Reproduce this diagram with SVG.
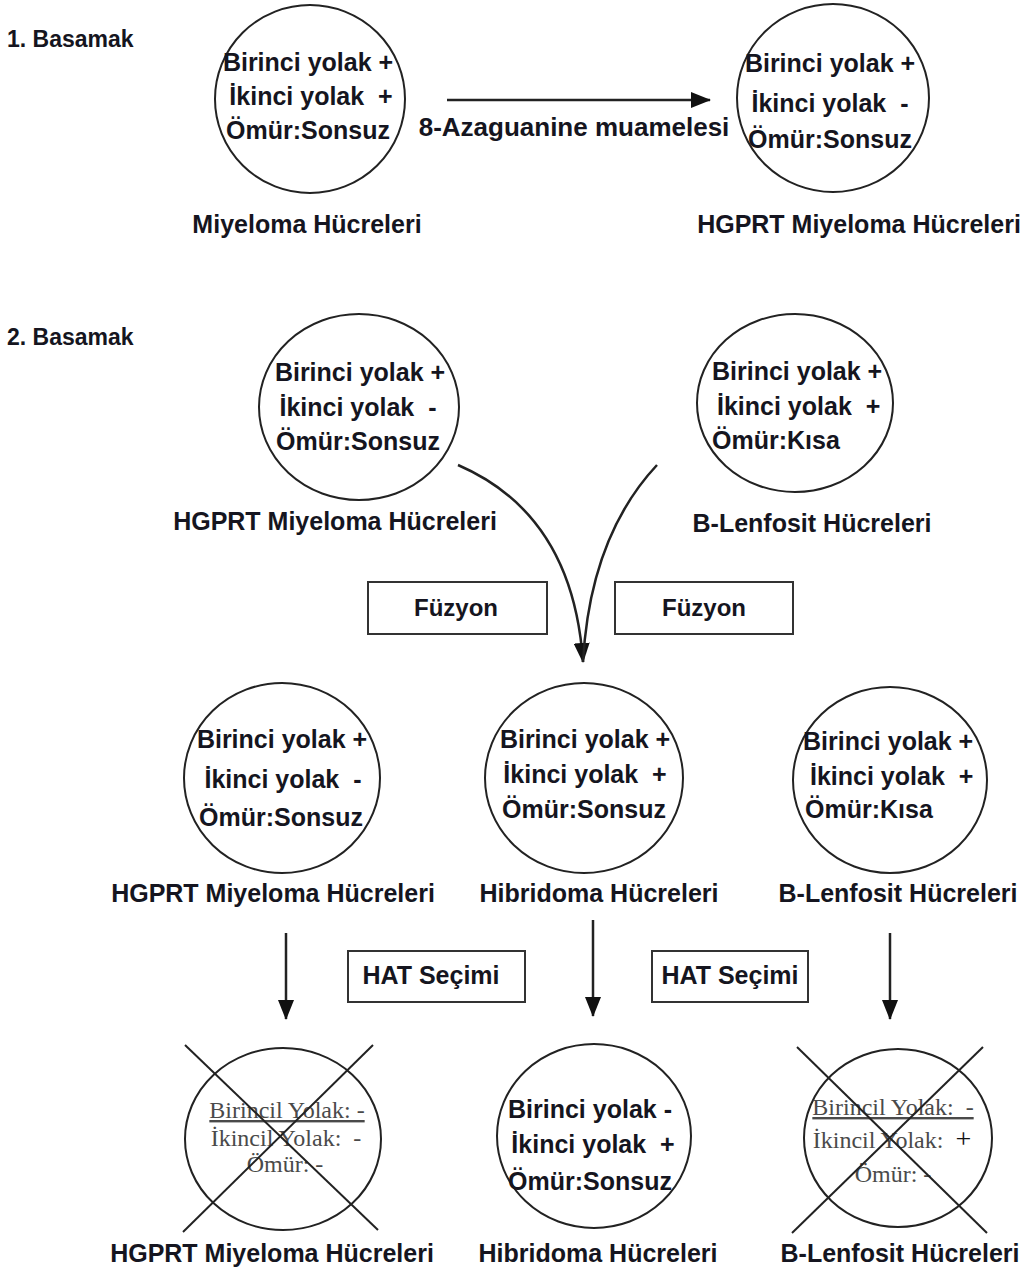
<svg xmlns="http://www.w3.org/2000/svg" width="1027" height="1270" viewBox="0 0 1027 1270">
<defs>
<style>
.c{fill:none;stroke:#222;stroke-width:2}
.x{stroke:#222;stroke-width:2}
.t{font-family:"Liberation Sans",Arial,sans-serif;font-weight:bold;font-size:25px;fill:#151520}
.m{text-anchor:middle}
.h{font-family:"Liberation Sans",Arial,sans-serif;font-weight:bold;font-size:23px;fill:#151520}
.s{font-family:"Liberation Serif","Times New Roman",serif;font-size:24px;fill:#4a4a4a;text-anchor:middle}
.box{fill:#fff;stroke:#333;stroke-width:2}
.conn{fill:none;stroke:#222;stroke-width:2.5}
</style>
<marker id="ah" markerUnits="userSpaceOnUse" markerWidth="20" markerHeight="16" viewBox="0 0 20 16" refX="19" refY="8" orient="auto">
<path d="M0,0 L20,8 L0,16 Z" fill="#111"/>
</marker>
</defs>
<rect width="1027" height="1270" fill="#fff"/>

<text class="h" x="7" y="47">1. Basamak</text>
<text class="h" x="7" y="345">2. Basamak</text>

<g id="connectors">
<line class="conn" x1="447" y1="100" x2="710" y2="100" marker-end="url(#ah)"/>
<path class="conn" d="M458,465 C532,497 576,560 583,662" marker-end="url(#ah)"/>
<path class="conn" d="M657,465 C615,510 588,572 583,662"/>
<line class="conn" x1="286" y1="933" x2="286" y2="1019" marker-end="url(#ah)"/>
<line class="conn" x1="593" y1="920" x2="593" y2="1016" marker-end="url(#ah)"/>
<line class="conn" x1="890" y1="933" x2="890" y2="1019" marker-end="url(#ah)"/>
</g>

<text class="t m" x="574" y="136" style="font-size:26px">8-Azaguanine muamelesi</text>

<g id="n1">
<ellipse class="c" cx="310" cy="99" rx="95" ry="94"/>
<text class="t m" x="308" y="71">Birinci yolak +</text>
<text class="t m" x="311" y="105" xml:space="preserve">İkinci yolak  +</text>
<text class="t m" x="308" y="139">Ömür:Sonsuz</text>
<text class="t m" x="307" y="233">Miyeloma Hücreleri</text>
</g>

<g id="n2">
<ellipse class="c" cx="833" cy="98" rx="96" ry="94"/>
<text class="t m" x="830" y="72">Birinci yolak +</text>
<text class="t m" x="830" y="112" xml:space="preserve">İkinci yolak  -</text>
<text class="t m" x="830" y="148">Ömür:Sonsuz</text>
<text class="t m" x="859" y="233">HGPRT Miyeloma Hücreleri</text>
</g>

<g id="n3">
<ellipse class="c" cx="359" cy="407" rx="100" ry="93"/>
<text class="t m" x="360" y="381">Birinci yolak +</text>
<text class="t m" x="358" y="416" xml:space="preserve">İkinci yolak  -</text>
<text class="t m" x="358" y="450">Ömür:Sonsuz</text>
<text class="t m" x="335" y="530">HGPRT Miyeloma Hücreleri</text>
</g>

<g id="n4">
<ellipse class="c" cx="795" cy="403" rx="98" ry="89"/>
<text class="t" x="712" y="380">Birinci yolak +</text>
<text class="t" x="717" y="415" xml:space="preserve">İkinci yolak  +</text>
<text class="t" x="712" y="449">Ömür:Kısa</text>
<text class="t m" x="812" y="532">B-Lenfosit Hücreleri</text>
</g>

<g id="fuzyon1">
<rect class="box" x="368" y="582" width="179" height="52"/>
<text class="t m" x="456" y="616" style="font-size:24px">Füzyon</text>
</g>
<g id="fuzyon2">
<rect class="box" x="615" y="582" width="178" height="52"/>
<text class="t m" x="704" y="616" style="font-size:24px">Füzyon</text>
</g>

<g id="n5">
<ellipse class="c" cx="282" cy="778" rx="98" ry="95"/>
<text class="t m" x="282" y="748">Birinci yolak +</text>
<text class="t m" x="283" y="788" xml:space="preserve">İkinci yolak  -</text>
<text class="t m" x="281" y="826">Ömür:Sonsuz</text>
<text class="t m" x="273" y="902">HGPRT Miyeloma Hücreleri</text>
</g>

<g id="n6">
<ellipse class="c" cx="584" cy="778" rx="99" ry="95"/>
<text class="t m" x="585" y="748">Birinci yolak +</text>
<text class="t m" x="585" y="783" xml:space="preserve">İkinci yolak  +</text>
<text class="t m" x="584" y="818">Ömür:Sonsuz</text>
<text class="t m" x="599" y="902">Hibridoma Hücreleri</text>
</g>

<g id="n7">
<ellipse class="c" cx="890" cy="780" rx="97" ry="93"/>
<text class="t" x="803" y="750">Birinci yolak +</text>
<text class="t" x="810" y="785" xml:space="preserve">İkinci yolak  +</text>
<text class="t" x="805" y="818">Ömür:Kısa</text>
<text class="t m" x="898" y="902">B-Lenfosit Hücreleri</text>
</g>

<g id="hat1">
<rect class="box" x="348" y="951" width="177" height="51"/>
<text class="t m" x="431" y="984">HAT Seçimi</text>
</g>
<g id="hat2">
<rect class="box" x="652" y="951" width="156" height="51"/>
<text class="t m" x="730" y="984">HAT Seçimi</text>
</g>

<g id="n8">
<ellipse class="c" cx="283" cy="1139" rx="98" ry="91"/>
<text class="s" x="287" y="1118" text-decoration="underline">Birincil Yolak: -</text>
<text class="s" x="286" y="1146" xml:space="preserve">İkincil Yolak:  -</text>
<text class="s" x="285" y="1172">Ömür: -</text>
<line class="x" x1="185" y1="1045" x2="378" y2="1230"/>
<line class="x" x1="373" y1="1045" x2="183" y2="1232"/>
<text class="t m" x="272" y="1262">HGPRT Miyeloma Hücreleri</text>
</g>

<g id="n9">
<ellipse class="c" cx="594" cy="1136" rx="97" ry="92"/>
<text class="t m" x="590" y="1118">Birinci yolak -</text>
<text class="t m" x="593" y="1153" xml:space="preserve">İkinci yolak  +</text>
<text class="t m" x="590" y="1190">Ömür:Sonsuz</text>
<text class="t m" x="598" y="1262">Hibridoma Hücreleri</text>
</g>

<g id="n10">
<ellipse class="c" cx="898" cy="1138" rx="94" ry="89"/>
<text class="s" x="893" y="1115" text-decoration="underline" xml:space="preserve">Birincil Yolak:  -</text>
<text class="s" x="892" y="1148" xml:space="preserve">İkincil Yolak:  <tspan fill="#111" style="font-size:28px">+</tspan></text>
<text class="s" x="893" y="1182">Ömür: -</text>
<line class="x" x1="797" y1="1047" x2="987" y2="1233"/>
<line class="x" x1="983" y1="1047" x2="792" y2="1233"/>
<text class="t m" x="900" y="1262">B-Lenfosit Hücreleri</text>
</g>
</svg>
